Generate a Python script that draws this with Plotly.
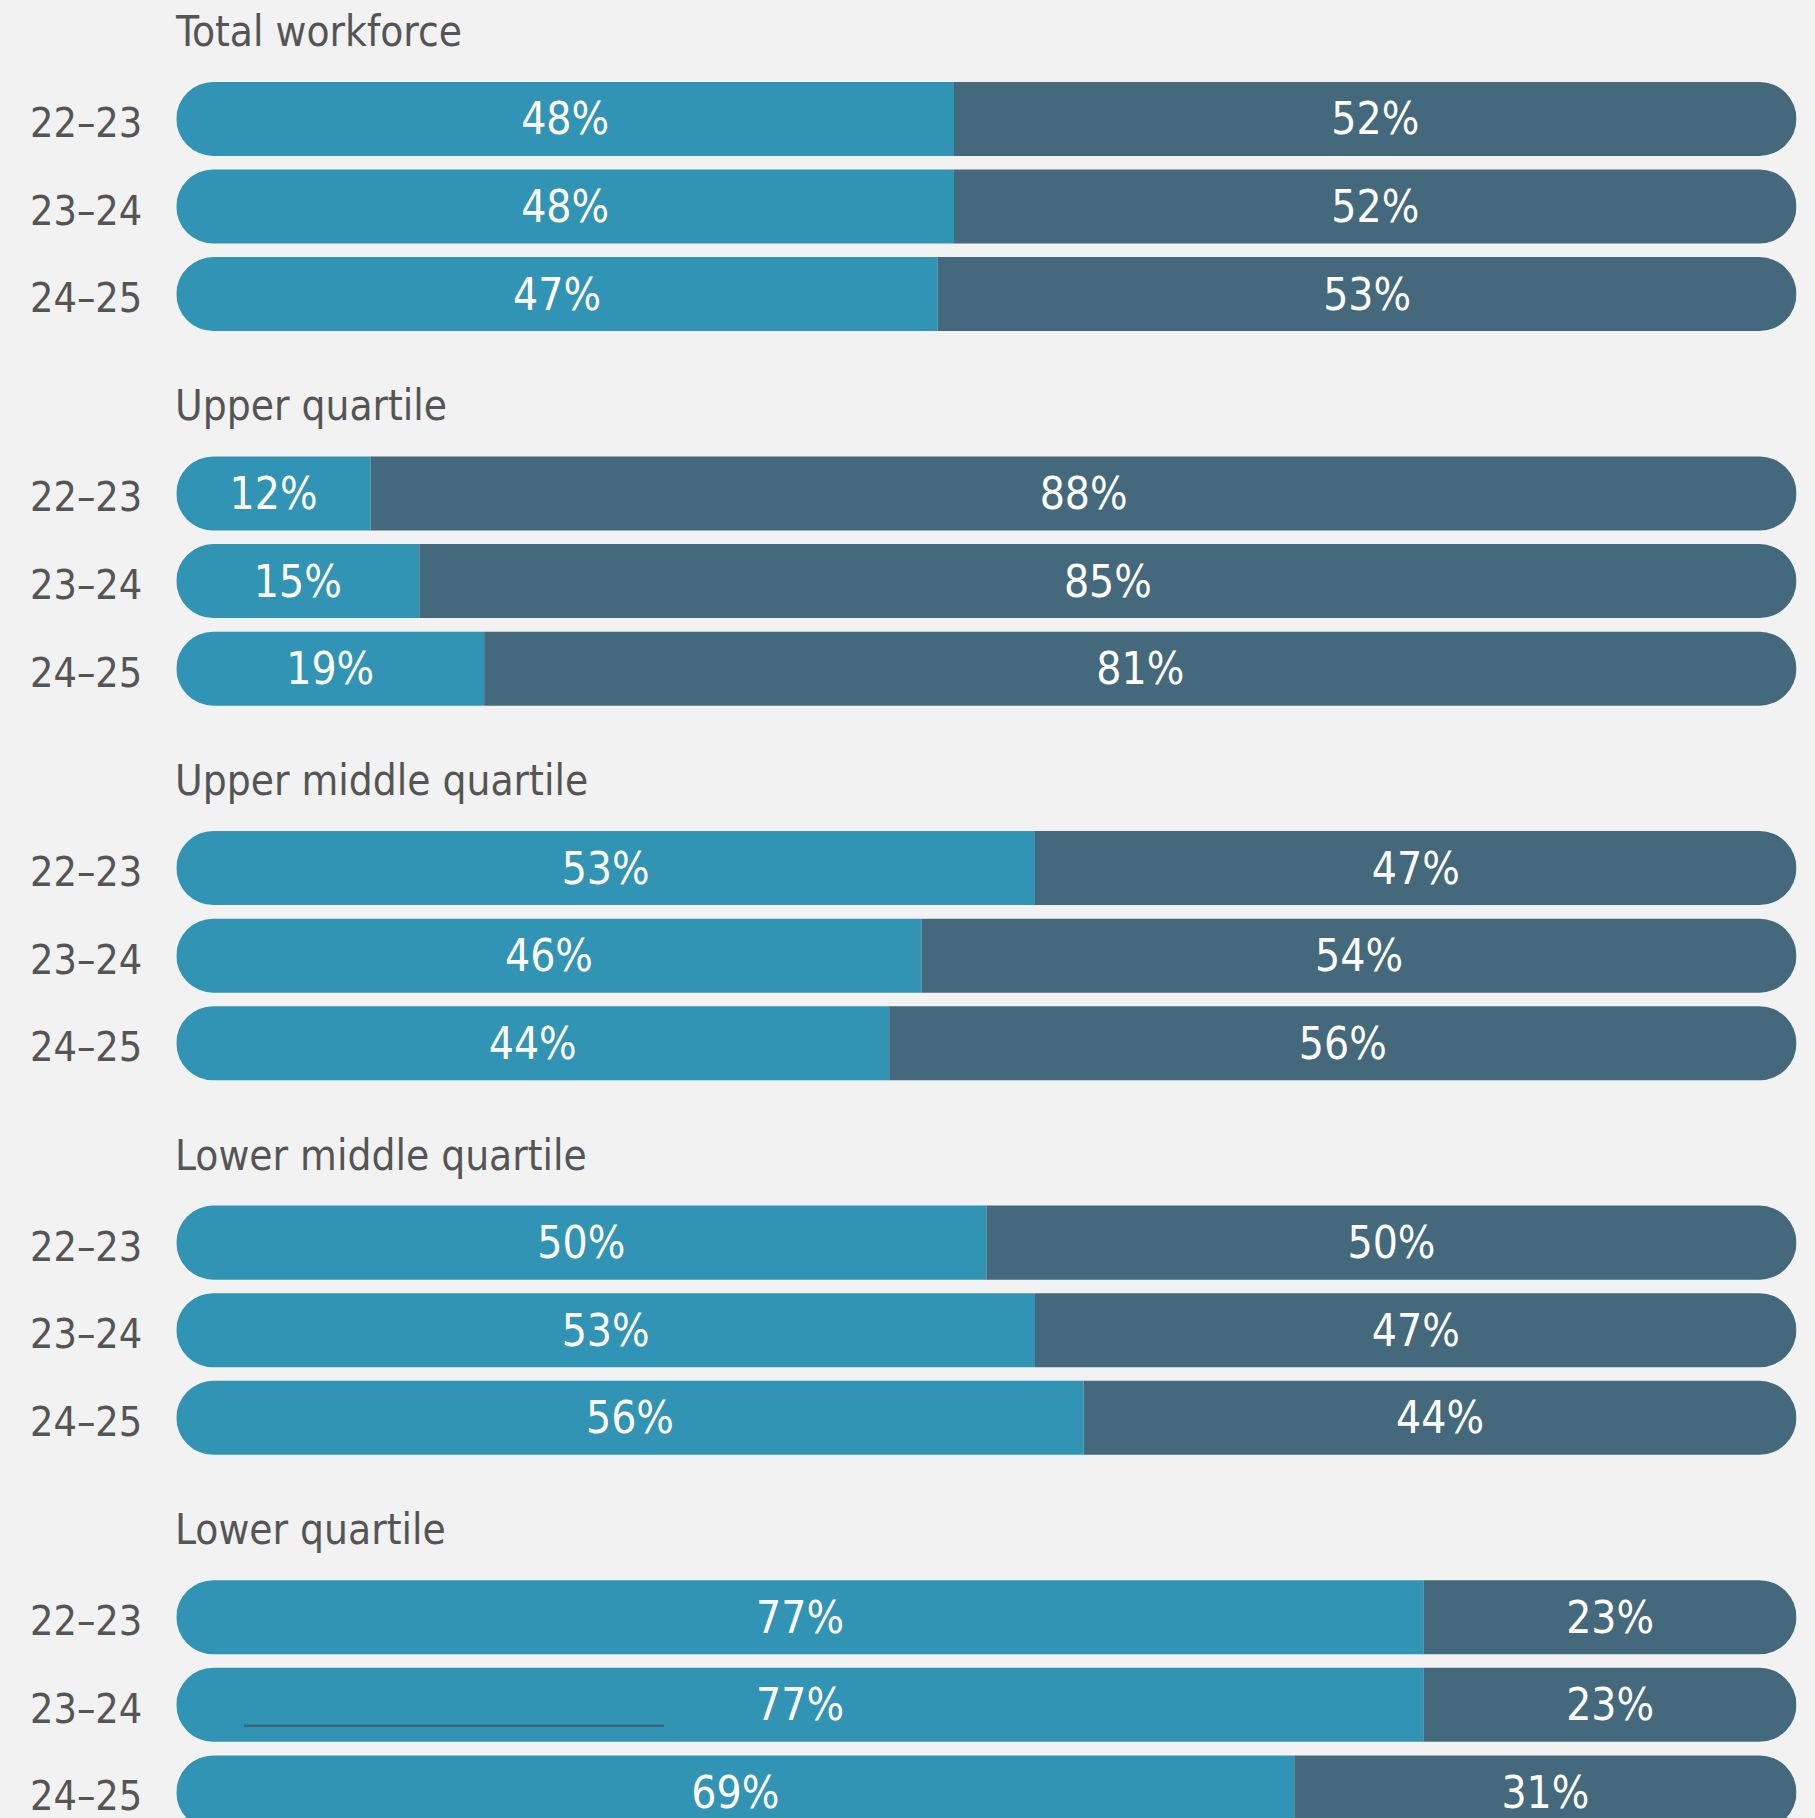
import plotly.graph_objects as go

# Share of staff in each pay band, by reporting year
groups = ["Total workforce", "Upper quartile", "Upper middle quartile",
          "Lower middle quartile", "Lower quartile"]
periods = ["22–23", "23–24", "24–25"]
female_pct = [[48, 48, 47], [12, 15, 19], [53, 46, 44], [50, 53, 56], [77, 77, 69]]
male_pct = [[52, 52, 53], [88, 85, 81], [47, 54, 56], [50, 47, 44], [23, 23, 31]]

TEAL = "#3194b4"
SLATE = "#44697c"
BG = "#f2f2f2"
TEXT = "#555555"
FONT = "DejaVu Sans Condensed, Liberation Sans, sans-serif"

W, H = 1815, 1818
BAR_LEFT, BAR_RIGHT = 176.3, 1796.5
GROUP_STEP = 4.276          # rows per group block (title row + 3 bars + gap)
BAR_W = 0.845

fig = go.Figure()
layout_axes = {}
annotations = []
row_y = []

i = 0
for g, name in enumerate(groups):
    top = g * GROUP_STEP
    annotations.append(dict(
        x=BAR_LEFT / W, xref="paper", y=top, yref="y", text=name, showarrow=False,
        xanchor="left", yanchor="middle", xshift=-3,
        font=dict(family=FONT, size=42, color=TEXT),
    ))
    for r, p in enumerate(periods):
        y = top + 1 + r
        row_y.append(y)
        f, m = female_pct[g][r], male_pct[g][r]
        # each row gets its own x axis with the split point at zero, so both
        # segments grow outward from the split and round only at their outer ends
        ax = "x" if i == 0 else f"x{i + 1}"
        key = "xaxis" if i == 0 else f"xaxis{i + 1}"
        axis = dict(range=[-f, m], visible=False, fixedrange=True)
        if i == 0:
            axis["domain"] = [BAR_LEFT / W, BAR_RIGHT / W]
        else:
            axis["overlaying"] = "x"
        layout_axes[key] = axis

        for val, col in ((-f, TEAL), (m, SLATE)):
            fig.add_trace(go.Bar(
                orientation="h", y=[y], x=[val], xaxis=ax, yaxis="y",
                width=BAR_W,
                marker=dict(color=col, cornerradius="50%", line=dict(width=0)),
                text=[f"{abs(val)}%"], textposition="inside",
                insidetextanchor="middle", textangle=0, constraintext="none",
                textfont=dict(family=FONT, size=44, color="white"),
                hoverinfo="skip", showlegend=False,
            ))

        annotations.append(dict(
            x=144 / W, xref="paper", y=y, yref="y", text=p, showarrow=False,
            xanchor="right", yanchor="middle", yshift=-4,
            font=dict(family=FONT, size=41, color=TEXT),
        ))
        i += 1

# thin rule across the lower-quartile 23–24 bar
rule_row = row_y[13]
shapes = [dict(type="line", xref="paper", yref="y", x0=244 / W, x1=664 / W,
               y0=rule_row + 0.24, y1=rule_row + 0.24,
               line=dict(color="#3f6378", width=2.5))]

px_per_row = 87.6
title_px = 31.3
fig.update_layout(
    width=W, height=H, margin=dict(l=0, r=0, t=0, b=0),
    paper_bgcolor=BG, plot_bgcolor=BG, barmode="overlay",
    annotations=annotations, shapes=shapes,
    yaxis=dict(range=[(H - title_px) / px_per_row, -title_px / px_per_row],
               visible=False, fixedrange=True),
    **layout_axes,
)

fig.write_html("out.html")
